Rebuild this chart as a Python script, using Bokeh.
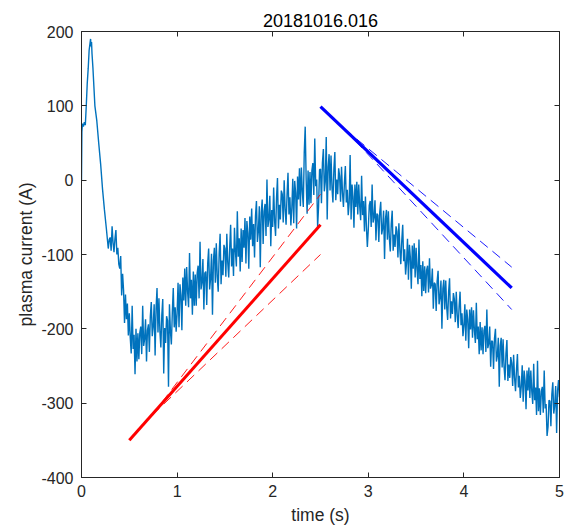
import numpy as np
from bokeh.plotting import figure
from bokeh.models import Range1d, LinearAxis, FixedTicker, CustomJSTickFormatter
from bokeh.embed import file_html
from bokeh.resources import INLINE

# ---- data ----
title_text = "20181016.016"

# early, smooth part of the plasma current trace (s, A)
t_early = [0, 0.004, 0.01, 0.02, 0.03, 0.04, 0.05, 0.06, 0.07, 0.08, 0.09, 0.095,
           0.10, 0.105, 0.11, 0.12, 0.13, 0.14, 0.16, 0.18, 0.20, 0.22, 0.24, 0.26, 0.28, 0.29]
i_early = [0, 65, 76, 72, 78, 74, 100, 130, 150, 175, 185, 190,
           180, 186, 170, 150, 125, 100, 80, 50, 22, -12, -40, -65, -92, -80]

# noisy part, sampled every 0.01 s from 0.30 s to 5.00 s (A), one row per 0.1 s
t_noisy_start = 0.30
t_noisy_step = 0.01
i_noisy = [
    -77, -95, -62, -84, -97, -79, -67, -100, -91, -113,
    -119, -102, -155, -126, -148, -192, -154, -187, -166, -209,
    -179, -212, -233, -169, -227, -208, -261, -200, -244, -206,
    -241, -205, -197, -234, -169, -223, -214, -187, -244, -202,
    -194, -231, -183, -164, -210, -197, -167, -236, -173, -145,
    -205, -159, -203, -225, -182, -160, -260, -199, -219, -183,
    -189, -278, -167, -203, -221, -178, -145, -198, -171, -204,
    -179, -138, -198, -140, -155, -202, -131, -162, -119, -169,
    -117, -150, -171, -98, -159, -134, -181, -123, -169, -127,
    -169, -125, -115, -159, -83, -147, -138, -106, -174, -125,
    -123, -168, -112, -92, -147, -133, -99, -181, -108, -91,
    -138, -85, -130, -150, -99, -72, -140, -108, -128, -87,
    -92, -130, -72, -111, -131, -91, -60, -116, -92, -129,
    -64, -96, -116, -42, -103, -78, -123, -65, -110, -67,
    -91, -51, -112, -55, -71, -119, -49, -80, -38, -89,
    -59, -104, -48, -28, -83, -69, -35, -117, -44, -26,
    -86, -42, -32, -75, 1, -63, -53, -21, -89, -40,
    -63, -10, -55, -75, -24, 3, -65, -33, -53, -14,
    -19, -57, 0, -39, -60, -20, 10, -46, -23, -61,
    -38, 2, -58, -1, -17, -65, 5, -26, 16, -35,
    17, -16, -36, 37, 72, 1, -45, 13, -33, 11,
    -31, 13, 23, -20, 56, -8, 1, -63, -35, 14,
    15, -31, 23, 42, -15, -2, 58, -53, 18, 35,
    -14, 33, -10, -30, 15, 38, -27, 1, -19, 16,
    5, -29, 18, -17, -36, -4, 19, -30, -13, -47,
    -31, 34, -53, -6, -22, -64, -6, -36, -2, -46,
    -6, -35, -54, 6, -47, -28, -69, -22, -62, -90,
    -66, -34, -28, -63, -6, -57, -50, -27, -81, -45,
    -47, -83, -43, -29, -73, -65, -41, -106, -52, -40,
    -80, -42, -78, -96, -59, -41, -95, -73, -90, -62,
    -69, -104, -58, -93, -113, -82, -60, -109, -93, -127,
    -111, -79, -134, -87, -104, -146, -88, -119, -85, -131,
    -91, -120, -140, -80, -133, -114, -156, -109, -149, -116,
    -152, -121, -115, -151, -105, -146, -141, -119, -173, -138,
    -140, -176, -136, -122, -167, -158, -135, -200, -146, -134,
    -174, -135, -171, -188, -151, -132, -186, -163, -180, -152,
    -160, -191, -150, -181, -199, -170, -150, -195, -179, -210,
    -196, -167, -216, -174, -188, -226, -174, -201, -171, -212,
    -175, -202, -219, -165, -214, -197, -234, -191, -229, -198,
    -234, -202, -196, -231, -174, -226, -220, -197, -251, -216,
    -217, -254, -213, -200, -244, -236, -212, -278, -223, -212,
    -252, -214, -251, -269, -233, -215, -270, -248, -266, -238,
    -246, -277, -235, -266, -284, -255, -234, -279, -263, -293,
    -278, -249, -298, -256, -270, -308, -256, -283, -252, -293,
    -256, -284, -301, -247, -296, -279, -316, -243, -311, -280,
    -316, -284, -278, -313, -256, -307, -301, -344, -332, -296,
    -297, -331, -288, -272, -314, -303, -277, -340, -283, -269, -292,
]

# ramp-up fit (red) and its bounds
red_fit_t = [0.5, 2.5]
red_fit_i = [-350, -60]
red_hi_t = [0.74, 2.5]
red_hi_i = [-316, -19]
red_lo_t = [0.74, 2.5]
red_lo_i = [-316, -100]

# ramp-down fit (blue) and its bounds
blue_fit_t = [2.5, 4.5]
blue_fit_i = [99, -145]
blue_hi_t = [2.75, 4.5]
blue_hi_i = [69, -117]
blue_lo_t = [2.75, 4.5]
blue_lo_i = [69, -174]

x_ticks = [0, 1, 2, 3, 4, 5]
y_ticks = [-400, -300, -200, -100, 0, 100, 200]

# ---- build the trace ----
t_noisy = [round(t_noisy_start + k * t_noisy_step, 4) for k in range(len(i_noisy))]
t_all = t_early + t_noisy
i_all = i_early + i_noisy

FONT = "Liberation Sans"
TXT = "#262626"

p = figure(width=567, height=530, output_backend="svg", toolbar_location=None,
           x_range=Range1d(0, 5), y_range=Range1d(-400, 200),
           min_border_left=81, min_border_right=8, min_border_top=31, min_border_bottom=53)
p.background_fill_color = "white"
p.border_fill_color = "white"
p.outline_line_color = TXT
p.grid.visible = False

p.title.text = title_text
p.title.align = "center"
p.title.text_font = FONT
p.title.text_font_style = "normal"
p.title.text_font_size = "18px"
p.title.text_color = "black"
p.title.standoff = 9

p.line(t_all, i_all, color="#0072BD", line_width=1.4)

p.line(red_fit_t, red_fit_i, color="#FF0000", line_width=3)
p.line(red_hi_t, red_hi_i, color="#FF0000", line_width=0.9, line_dash="10 6")
p.line(red_lo_t, red_lo_i, color="#FF0000", line_width=0.9, line_dash="10 6")

p.line(blue_fit_t, blue_fit_i, color="#0000FF", line_width=3.2)
p.line(blue_hi_t, blue_hi_i, color="#0000FF", line_width=0.9, line_dash="10 6")
p.line(blue_lo_t, blue_lo_i, color="#0000FF", line_width=0.9, line_dash="10 6")

def style_axis(ax):
    ax.axis_line_color = TXT
    ax.major_tick_line_color = TXT
    ax.major_tick_in = 5
    ax.major_tick_out = 0
    ax.minor_tick_line_color = None
    ax.major_label_text_font = FONT
    ax.major_label_text_color = TXT
    ax.major_label_text_font_size = "16px"
    ax.axis_label_text_font = FONT
    ax.axis_label_text_color = TXT
    ax.axis_label_text_font_style = "normal"
    ax.axis_label_text_font_size = "17.5px"

p.xaxis.ticker = FixedTicker(ticks=x_ticks)
p.yaxis.ticker = FixedTicker(ticks=y_ticks)
p.xaxis.major_label_overrides = {v: str(v) for v in x_ticks}
p.yaxis.major_label_overrides = {v: str(v) for v in y_ticks}
p.xaxis.axis_label = "time (s)"
p.yaxis.axis_label = "plasma current (A)"
style_axis(p.xaxis[0])
style_axis(p.yaxis[0])
p.xaxis.major_label_standoff = 7
p.yaxis.major_label_standoff = 8
p.xaxis.axis_label_standoff = 5
p.yaxis.axis_label_standoff = 2

blank = CustomJSTickFormatter(code="return ''")
top = LinearAxis(ticker=FixedTicker(ticks=x_ticks), formatter=blank)
right = LinearAxis(ticker=FixedTicker(ticks=y_ticks), formatter=blank)
style_axis(top)
style_axis(right)
top.major_label_standoff = 0
right.major_label_standoff = 0
p.add_layout(top, "above")
p.add_layout(right, "right")

open("out.html", "w").write(file_html(p, INLINE))
